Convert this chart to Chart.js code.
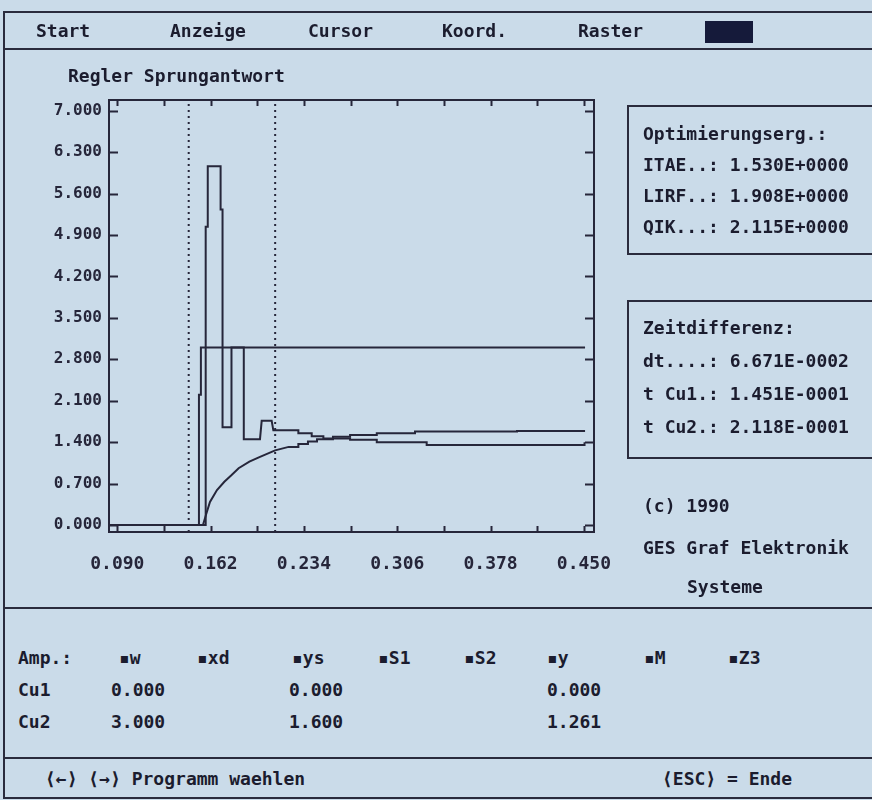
<!DOCTYPE html>
<html><head><meta charset="utf-8">
<script src="https://cdn.jsdelivr.net/npm/chart.js@4.4.1/dist/chart.umd.min.js"></script>
<style>
html,body{margin:0;padding:0;}
body{width:872px;height:800px;background:#cadbe9;position:relative;overflow:hidden;font-family:'DejaVu Sans Mono',monospace;font-weight:bold;color:#1b1c2e;}
.t{position:absolute;font-size:18px;line-height:18px;white-space:pre;transform:translateY(-50%);}
.hl{position:absolute;height:2px;background:#2a2b3d;}
.vl{position:absolute;width:2px;background:#2a2b3d;}
.box{position:absolute;border:2px solid #2a2b3d;border-right:none;}
#wrap{position:absolute;left:0;top:0;width:680px;height:600px;}
.blk{position:absolute;background:#151a3a;}
</style></head><body>
<div class="hl" style="left:3px;top:11px;width:869px"></div>
<div class="hl" style="left:3px;top:48px;width:869px"></div>
<div class="vl" style="left:3px;top:11px;height:788px"></div>
<div class="hl" style="left:3px;top:607px;width:869px"></div>
<div class="hl" style="left:3px;top:757px;width:869px"></div>
<div class="hl" style="left:3px;top:797px;width:869px"></div>

<div id="wrap"><canvas id="c" width="680" height="600"></canvas></div>

<div class="t" style="left:36px;top:31px">Start</div>
<div class="t" style="left:170px;top:31px">Anzeige</div>
<div class="t" style="left:308px;top:31px">Cursor</div>
<div class="t" style="left:442px;top:31px">Koord.</div>
<div class="t" style="left:578px;top:31px">Raster</div>
<div class="blk" style="left:705px;top:21px;width:48px;height:22px"></div>

<div class="t" style="left:68px;top:76px">Regler Sprungantwort</div>

<div class="box" style="left:627px;top:105px;width:260px;height:146px"></div>
<div class="t" style="left:643px;top:134px">Optimierungserg.:</div>
<div class="t" style="left:643px;top:165px">ITAE..: 1.530E+0000</div>
<div class="t" style="left:643px;top:196px">LIRF..: 1.908E+0000</div>
<div class="t" style="left:643px;top:227px">QIK...: 2.115E+0000</div>

<div class="box" style="left:627px;top:300px;width:260px;height:155px"></div>
<div class="t" style="left:643px;top:328px">Zeitdifferenz:</div>
<div class="t" style="left:643px;top:361px">dt....: 6.671E-0002</div>
<div class="t" style="left:643px;top:394px">t Cu1.: 1.451E-0001</div>
<div class="t" style="left:643px;top:427px">t Cu2.: 2.118E-0001</div>

<div class="t" style="left:643px;top:506px">(c) 1990</div>
<div class="t" style="left:643px;top:548px">GES Graf Elektronik</div>
<div class="t" style="left:687px;top:587px">Systeme</div>

<div class="t" style="left:18px;top:658px">Amp.:</div>
<div class="t" style="left:119px;top:658px">▪w</div>
<div class="t" style="left:197px;top:658px">▪xd</div>
<div class="t" style="left:292px;top:658px">▪ys</div>
<div class="t" style="left:378px;top:658px">▪S1</div>
<div class="t" style="left:464px;top:658px">▪S2</div>
<div class="t" style="left:547px;top:658px">▪y</div>
<div class="t" style="left:644px;top:658px">▪M</div>
<div class="t" style="left:728px;top:658px">▪Z3</div>

<div class="t" style="left:18px;top:690px">Cu1</div>
<div class="t" style="left:111px;top:690px">0.000</div>
<div class="t" style="left:289px;top:690px">0.000</div>
<div class="t" style="left:547px;top:690px">0.000</div>
<div class="t" style="left:18px;top:722px">Cu2</div>
<div class="t" style="left:111px;top:722px">3.000</div>
<div class="t" style="left:289px;top:722px">1.600</div>
<div class="t" style="left:547px;top:722px">1.261</div>

<div class="t" style="left:45px;top:779px">⟨←⟩ ⟨→⟩ Programm waehlen</div>
<div class="t" style="left:662px;top:779px">⟨ESC⟩ = Ende</div>

<script>
// ---- data ----
const xTickValues = [0.090, 0.126, 0.162, 0.198, 0.234, 0.270, 0.306, 0.342, 0.378, 0.414, 0.450];
const xLabelValues = [0.090, 0.162, 0.234, 0.306, 0.378, 0.450];
const yTickValues = [0.0, 0.7, 1.4, 2.1, 2.8, 3.5, 4.2, 4.9, 5.6, 6.3, 7.0];

// w (Sollwert)
const wT = [0.0836, 0.1530, 0.1530, 0.1545, 0.1545, 0.4509];
const wV = [0, 0, 2.2, 2.2, 3.0, 3.0];

// ys (Stellgroesse)
const ysT = [0.0836, 0.1582, 0.1582, 0.1598, 0.1598, 0.1697, 0.1697, 0.1712, 0.1712, 0.1781, 0.1781, 0.1876, 0.1876, 0.2001, 0.2014, 0.2091, 0.2104, 0.2297, 0.2297, 0.2400, 0.2400, 0.2490, 0.2490, 0.2696, 0.2696, 0.2902, 0.2902, 0.3287, 0.3287, 0.4505, 0.4505, 0.4509];
const ysV = [0, 0, 5.04, 5.04, 6.06, 6.06, 5.33, 5.33, 1.65, 1.65, 3.0, 3.0, 1.45, 1.45, 1.76, 1.76, 1.60, 1.60, 1.55, 1.55, 1.50, 1.50, 1.46, 1.46, 1.44, 1.44, 1.40, 1.40, 1.35, 1.35, 1.38, 1.38];

// y (Regelgroesse)
const yT = [0.0836, 0.1561, 0.1588, 0.1615, 0.1669, 0.1726, 0.1780, 0.1836, 0.1919, 0.2001, 0.2118, 0.2222, 0.2233, 0.2297, 0.2297, 0.2371, 0.2371, 0.2441, 0.2441, 0.2564, 0.2564, 0.2696, 0.2696, 0.2902, 0.2902, 0.3197, 0.3197, 0.3984, 0.3984, 0.4509];
const yV = [0, 0, 0.20, 0.39, 0.59, 0.73, 0.84, 0.96, 1.07, 1.15, 1.261, 1.32, 1.32, 1.32, 1.37, 1.37, 1.41, 1.41, 1.45, 1.45, 1.49, 1.49, 1.52, 1.52, 1.55, 1.55, 1.58, 1.58, 1.59, 1.59];

// cursors
const cursorTimes = [0.1451, 0.2118];

const X_MIN = 0.0836, X_MAX = 0.4578;
const Y_MIN = -0.118, Y_MAX = 7.18;
const INK = '#26263a';

const pts = (T, V) => T.map((t, i) => ({x: t, y: V[i]}));
const lineDs = (label, T, V) => ({label, data: pts(T, V), borderColor: INK, borderWidth: 2, pointRadius: 0, tension: 0, fill: false});

const datasets = [
  lineDs('w', wT, wV),
  lineDs('ys', ysT, ysV),
  lineDs('y', yT, yV),
  ...cursorTimes.map((t, i) => ({label: 'Cu' + (i + 1), data: [{x: t, y: Y_MIN}, {x: t, y: Y_MAX}], borderColor: INK, borderWidth: 2, borderDash: [2, 4], pointRadius: 0}))
];

const framePlugin = {
  id: 'frame',
  afterDraw(chart) {
    const {ctx, chartArea: a, scales: {x, y}} = chart;
    ctx.save();
    ctx.strokeStyle = INK;
    ctx.lineWidth = 2;
    ctx.strokeRect(a.left, a.top, a.right - a.left, a.bottom - a.top);
    ctx.beginPath();
    yTickValues.forEach(v => {
      const p = Math.round(y.getPixelForValue(v)) + 0.5;
      ctx.moveTo(a.left, p); ctx.lineTo(a.left + 9, p);
      ctx.moveTo(a.right, p); ctx.lineTo(a.right - 9, p);
    });
    xTickValues.forEach(v => {
      const p = Math.round(x.getPixelForValue(v)) + 0.5;
      ctx.moveTo(p, a.bottom); ctx.lineTo(p, a.bottom - 6);
      ctx.moveTo(p, a.top); ctx.lineTo(p, a.top + 6);
    });
    ctx.stroke();
    ctx.restore();
  }
};

new Chart(document.getElementById('c'), {
  type: 'line',
  data: {datasets},
  options: {
    responsive: false,
    animation: false,
    devicePixelRatio: 1,
    layout: {padding: {left: 0, top: 100, right: 86, bottom: 18}},
    plugins: {legend: {display: false}, tooltip: {enabled: false}},
    scales: {
      x: {
        type: 'linear', min: X_MIN, max: X_MAX,
        afterBuildTicks: s => { s.ticks = xTickValues.map(v => ({value: v})); },
        afterFit: s => { s.height = 50; },
        grid: {display: false, drawTicks: false},
        border: {display: false},
        ticks: {
          autoSkip: false, maxRotation: 0, padding: 22, color: INK,
          font: {family: 'DejaVu Sans Mono', size: 18, weight: 'bold'},
          callback: v => xLabelValues.some(l => Math.abs(l - v) < 1e-6) ? Number(v).toFixed(3) : ''
        }
      },
      y: {
        type: 'linear', min: Y_MIN, max: Y_MAX,
        afterBuildTicks: s => { s.ticks = yTickValues.map(v => ({value: v})); },
        afterFit: s => { s.width = 109; },
        grid: {display: false, drawTicks: false},
        border: {display: false},
        ticks: {
          padding: 7, color: INK,
          font: {family: 'DejaVu Sans Mono', size: 16, weight: 'bold'},
          callback: v => Number(v).toFixed(3)
        }
      }
    }
  },
  plugins: [framePlugin]
});
</script>
</body></html>
